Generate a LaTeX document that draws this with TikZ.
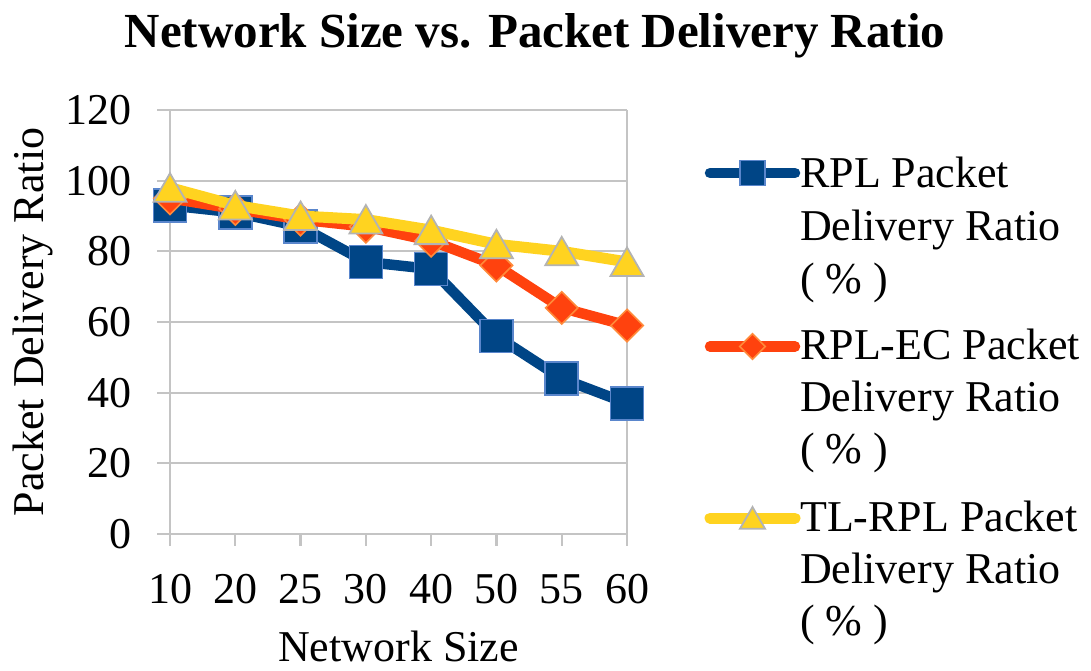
\documentclass[tikz,border=0pt]{standalone}
\usepackage{fontspec}
\setmainfont{Liberation Serif}
\usetikzlibrary{shapes.geometric}
\definecolor{rplblue}{HTML}{004586}
\definecolor{rplblueedge}{HTML}{5A86CC}
\definecolor{ecorange}{HTML}{FF420E}
\definecolor{ecedge}{HTML}{FF8A3A}
\definecolor{tlyellow}{HTML}{FFD320}
\definecolor{tledge}{HTML}{B3B3B3}
\definecolor{gridgray}{HTML}{C4C4C4}
\begin{document}
\begin{tikzpicture}[x=1pt,y=-1pt,
  lbl/.style={font=\fontsize{44}{52.8}\selectfont, inner sep=0pt},
  ttl/.style={font=\fontsize{49}{58}\selectfont\bfseries, inner sep=0pt},
  gridln/.style={draw=gridgray, line width=2.2pt},
  rplline/.style={draw=rplblue, line width=10.5pt, line join=round},
  ecline/.style={draw=ecorange, line width=10.5pt, line join=round},
  tlline/.style={draw=tlyellow, line width=11pt, line join=round},
  sqmark/.style={rectangle, fill=rplblue, draw=rplblueedge, line width=1.6pt,
    minimum size=#1, inner sep=0pt},
  dmmark/.style={diamond, fill=ecorange, draw=ecedge, line width=1.6pt,
    minimum size=#1, inner sep=0pt},
  trmark/.style={regular polygon, regular polygon sides=3, fill=tlyellow,
    draw=tledge, line width=1.8pt, minimum size=#1, inner sep=0pt}
]
\useasboundingbox (0,0) rectangle (1091,670);

% horizontal grid lines with outer ticks, value labels
\foreach \v [count=\k from 0] in {0,20,40,60,80,100,120} {
  \coordinate (gl\k) at (157,{534-3.5333*\v});
  \coordinate (gr\k) at (627,{534-3.5333*\v});
  \draw[gridln] (gl\k) -- (gr\k);
  \node[lbl, anchor=base east] (yl\k) at (132,{534-3.5333*\v+14.5}) {\v};
}

% vertical axis lines
\coordinate (axtl) at (170,110);
\coordinate (axbl) at (170,546);
\coordinate (axtr) at (627,110);
\coordinate (axbr) at (627,546);
\draw[gridln] (axtl) -- (axbl);
\draw[gridln] (axtr) -- (axbr);

% category ticks and labels
\foreach \c [count=\i from 0] in {10,20,25,30,40,50,55,60} {
  \coordinate (tk\i) at ({170+65.286*\i},534);
  \coordinate (tb\i) at ({170+65.286*\i},546);
  \draw[gridln] (tk\i) -- (tb\i);
  \node[lbl, anchor=base] (xl\i) at ({170+65.286*\i},603) {\c};
}

% axis titles and chart title
\node[lbl, anchor=base] (xtitle) at (398.5,661) {Network Size};
\node[lbl, anchor=base, rotate=90] (ytitle) at (43,322) {Packet Delivery Ratio};
\node[ttl, anchor=base] (title) at (535,47) {Network Size vs. Packet Delivery Ratio};

% data points
\foreach \v [count=\i from 0] in {93,91,87,77,75,56,44,37}
  \coordinate (r\i) at ({170+65.286*\i},{534-3.5333*\v});
\foreach \v [count=\i from 0] in {95,92,89,87,83,76,64,59}
  \coordinate (e\i) at ({170+65.286*\i},{534-3.5333*\v});
\foreach \v [count=\i from 0] in {98,93,90,89,86,82,80,77}
  \coordinate (t\i) at ({170+65.286*\i},{534-3.5333*\v});

% RPL series
\draw[rplline] (r0) -- (r1) -- (r2) -- (r3) -- (r4) -- (r5) -- (r6) -- (r7);
\foreach \i in {0,...,7} \node[sqmark=33pt] (rm\i) at (r\i) {};

% RPL-EC series
\draw[ecline] (e0) -- (e1) -- (e2) -- (e3) -- (e4) -- (e5) -- (e6) -- (e7);
\foreach \i in {0,...,7} \node[dmmark=33pt] (em\i) at (e\i) {};

% TL-RPL series
\draw[tlline] (t0) -- (t1) -- (t2) -- (t3) -- (t4) -- (t5) -- (t6) -- (t7);
\foreach \i in {0,...,7} \node[trmark=38pt, yshift=-4.5pt] (tm\i) at (t\i) {};

% legend
\coordinate (lga1) at (710,173);  \coordinate (lgb1) at (795,173);
\coordinate (lga2) at (710,346.5); \coordinate (lgb2) at (795,346.5);
\coordinate (lga3) at (710,518);  \coordinate (lgb3) at (795,518);
\draw[rplline, line cap=round] (lga1) -- (lgb1);
\node[sqmark=25pt] (lgm1) at (752.5,173) {};
\draw[ecline, line cap=round] (lga2) -- (lgb2);
\node[dmmark=26pt] (lgm2) at (752.5,346.5) {};
\draw[tlline, line cap=round] (lga3) -- (lgb3);
\node[trmark=29pt, yshift=-3.5pt] (lgm3) at (752.5,518) {};

\node[lbl, anchor=base west] (lt1a) at (800,187) {RPL Packet};
\node[lbl, anchor=base west] (lt1b) at (800,240) {Delivery Ratio};
\node[lbl, anchor=base west] (lt1c) at (800,293) {(\ \% )};
\node[lbl, anchor=base west] (lt2a) at (800,359) {RPL-EC Packet};
\node[lbl, anchor=base west] (lt2b) at (800,411.5) {Delivery Ratio};
\node[lbl, anchor=base west] (lt2c) at (800,463.5) {(\ \% )};
\node[lbl, anchor=base west] (lt3a) at (800,531) {TL-RPL Packet};
\node[lbl, anchor=base west] (lt3b) at (800,583) {Delivery Ratio};
\node[lbl, anchor=base west] (lt3c) at (800,635) {(\ \% )};
\end{tikzpicture}
\end{document}
